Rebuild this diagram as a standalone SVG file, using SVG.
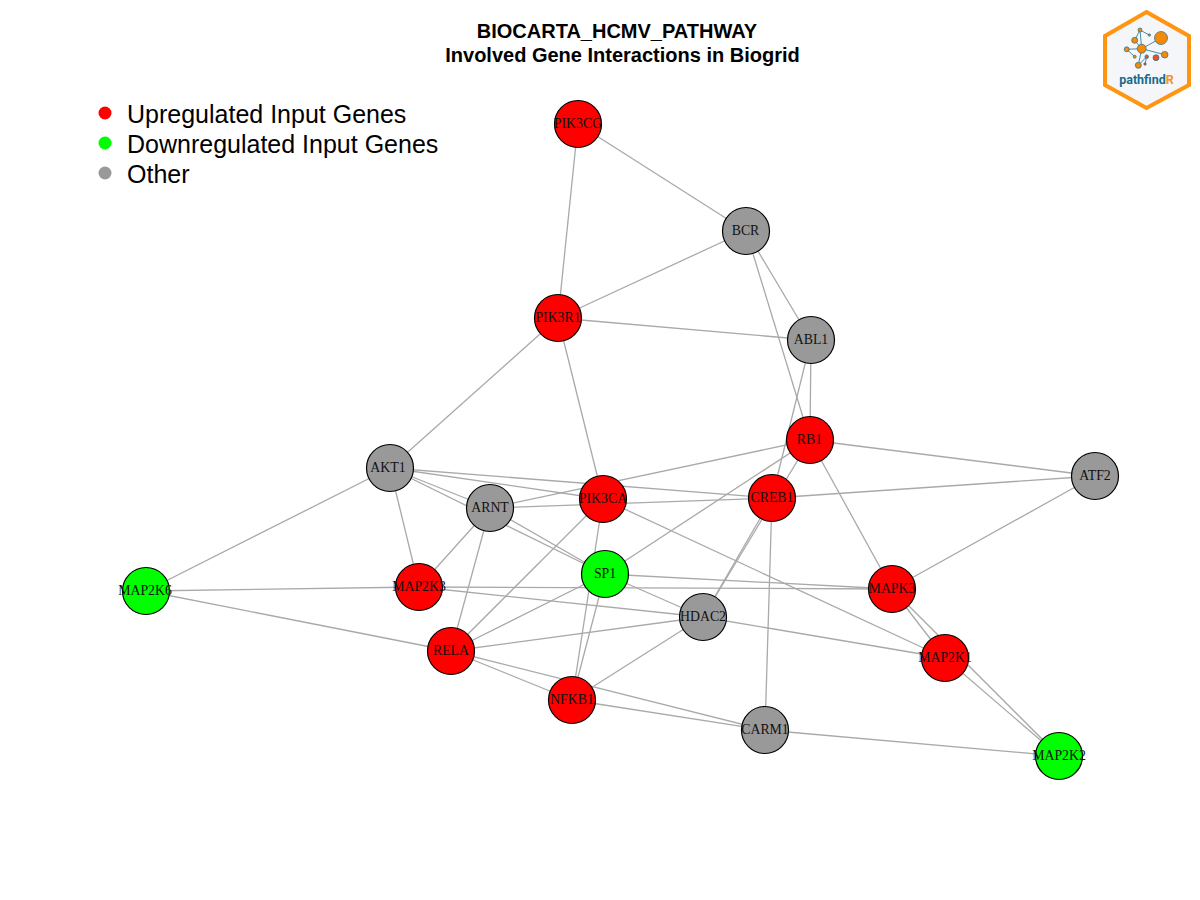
<svg xmlns="http://www.w3.org/2000/svg" width="1200" height="900" viewBox="0 0 1200 900">
<style>
.bg{fill:#fff}
.e line{stroke:#a9a9a9;stroke-width:1.3;fill:none}
.n circle{stroke:#000;stroke-width:1.2}
.up{fill:#f00}.down{fill:#0f0}.other{fill:#999}
.n text{font-family:"Liberation Serif","Times New Roman",serif;font-size:13.800px;text-anchor:middle;fill:#111}
.t{font-family:"Liberation Sans",Arial,sans-serif;font-weight:700;font-size:20px;text-anchor:middle;fill:#000}
.l{font-family:"Liberation Sans",Arial,sans-serif;font-size:25px;fill:#000}
.lg line{stroke:#1f6f8f;stroke-width:.8}
.lg circle{stroke:#1f6f8f;stroke-width:.7;fill:#f58a07}
</style>
<rect class="bg" width="1200" height="900"/>
<g id="title">
<text class="t" x="617" y="38">BIOCARTA_HCMV_PATHWAY</text>
<text class="t" x="622.500" y="62">Involved Gene Interactions in Biogrid</text>
</g>
<g id="legend">
<circle class="up" cx="105" cy="113" r="6.500"/><text class="l" x="127" y="123">Upregulated Input Genes</text>
<circle class="down" cx="105" cy="143" r="6.500"/><text class="l" x="127" y="153">Downregulated Input Genes</text>
<circle class="other" cx="105" cy="173" r="6.500"/><text class="l" x="127" y="183">Other</text>
</g>
<g id="connectors" class="e">
<line x1="578" y1="124" x2="746" y2="231"/>
<line x1="578" y1="124" x2="558" y2="318"/>
<line x1="746" y1="231" x2="558" y2="318"/>
<line x1="746" y1="231" x2="811" y2="340"/>
<line x1="746" y1="231" x2="810" y2="440"/>
<line x1="558" y1="318" x2="811" y2="340"/>
<line x1="558" y1="318" x2="390" y2="468"/>
<line x1="558" y1="318" x2="603" y2="499"/>
<line x1="811" y1="340" x2="810" y2="440"/>
<line x1="811" y1="340" x2="772" y2="498"/>
<line x1="810" y1="440" x2="1095" y2="476"/>
<line x1="810" y1="440" x2="490" y2="508"/>
<line x1="810" y1="440" x2="605" y2="574"/>
<line x1="810" y1="440" x2="892" y2="589"/>
<line x1="810" y1="440" x2="703" y2="617"/>
<line x1="772" y1="498" x2="703" y2="617"/>
<line x1="772" y1="498" x2="1095" y2="476"/>
<line x1="772" y1="498" x2="490" y2="508"/>
<line x1="772" y1="498" x2="390" y2="468"/>
<line x1="772" y1="498" x2="765" y2="730"/>
<line x1="390" y1="468" x2="603" y2="499"/>
<line x1="390" y1="468" x2="490" y2="508"/>
<line x1="390" y1="468" x2="605" y2="574"/>
<line x1="390" y1="468" x2="419" y2="587"/>
<line x1="390" y1="468" x2="146" y2="591"/>
<line x1="490" y1="508" x2="419" y2="587"/>
<line x1="490" y1="508" x2="451" y2="651"/>
<line x1="490" y1="508" x2="605" y2="574"/>
<line x1="603" y1="499" x2="451" y2="651"/>
<line x1="603" y1="499" x2="572" y2="700"/>
<line x1="603" y1="499" x2="945" y2="658"/>
<line x1="605" y1="574" x2="572" y2="700"/>
<line x1="605" y1="574" x2="451" y2="651"/>
<line x1="605" y1="574" x2="703" y2="617"/>
<line x1="605" y1="574" x2="892" y2="589"/>
<line x1="419" y1="587" x2="703" y2="617"/>
<line x1="419" y1="587" x2="892" y2="589"/>
<line x1="146" y1="591" x2="419" y2="587"/>
<line x1="146" y1="591" x2="451" y2="651"/>
<line x1="451" y1="651" x2="703" y2="617"/>
<line x1="451" y1="651" x2="572" y2="700"/>
<line x1="451" y1="651" x2="765" y2="730"/>
<line x1="572" y1="700" x2="703" y2="617"/>
<line x1="572" y1="700" x2="765" y2="730"/>
<line x1="765" y1="730" x2="1059" y2="756"/>
<line x1="703" y1="617" x2="945" y2="658"/>
<line x1="892" y1="589" x2="945" y2="658"/>
<line x1="892" y1="589" x2="1059" y2="756"/>
<line x1="945" y1="658" x2="1059" y2="756"/>
<line x1="892" y1="589" x2="1095" y2="476"/>
</g>
<g id="nodes" class="n">
<g id="PIK3CG"><circle class="up" cx="578" cy="124" r="23.500"/><text x="578" y="128">PIK3CG</text></g>
<g id="BCR"><circle class="other" cx="746" cy="231" r="23.500"/><text x="745.500" y="235">BCR</text></g>
<g id="PIK3R1"><circle class="up" cx="558" cy="318" r="23.500"/><text x="558" y="322">PIK3R1</text></g>
<g id="ABL1"><circle class="other" cx="811" cy="340" r="23.500"/><text x="811" y="344">ABL1</text></g>
<g id="RB1"><circle class="up" cx="810" cy="440" r="23.500"/><text x="809.500" y="444">RB1</text></g>
<g id="CREB1"><circle class="up" cx="772" cy="498" r="23.500"/><text x="772" y="502">CREB1</text></g>
<g id="ATF2"><circle class="other" cx="1095" cy="476" r="23.500"/><text x="1095" y="480">ATF2</text></g>
<g id="AKT1"><circle class="other" cx="390" cy="468" r="23.500"/><text x="388" y="472">AKT1</text></g>
<g id="ARNT"><circle class="other" cx="490" cy="508" r="23.500"/><text x="490" y="512">ARNT</text></g>
<g id="PIK3CA"><circle class="up" cx="603" cy="499" r="23.500"/><text x="603" y="503">PIK3CA</text></g>
<g id="SP1"><circle class="down" cx="605" cy="574" r="23.500"/><text x="605" y="578">SP1</text></g>
<g id="MAP2K6"><circle class="down" cx="146" cy="591" r="23.500"/><text x="145" y="595">MAP2K6</text></g>
<g id="MAP2K3"><circle class="up" cx="419" cy="587" r="23.500"/><text x="419" y="591">MAP2K3</text></g>
<g id="MAPK3"><circle class="up" cx="892" cy="589" r="23.500"/><text x="892" y="593">MAPK3</text></g>
<g id="HDAC2"><circle class="other" cx="703" cy="617" r="23.500"/><text x="703" y="621">HDAC2</text></g>
<g id="RELA"><circle class="up" cx="451" cy="651" r="23.500"/><text x="451" y="655">RELA</text></g>
<g id="MAP2K1"><circle class="up" cx="945" cy="658" r="23.500"/><text x="945" y="662">MAP2K1</text></g>
<g id="NFKB1"><circle class="up" cx="572" cy="700" r="23.500"/><text x="572" y="704">NFKB1</text></g>
<g id="CARM1"><circle class="other" cx="765" cy="730" r="23.500"/><text x="765" y="734">CARM1</text></g>
<g id="MAP2K2"><circle class="down" cx="1059" cy="756" r="23.500"/><text x="1059" y="760">MAP2K2</text></g>
</g>
<g id="logo" class="lg">
<polygon points="1146.500,12 1189,36 1189,85 1146.500,108 1105,85 1105,36" fill="#f4f6f9" stroke="#ff9511" stroke-width="4"/>
<line x1="1141.700" y1="48.700" x2="1161" y2="38"/>
<line x1="1141.700" y1="48.700" x2="1134.700" y2="40.300"/>
<line x1="1141.700" y1="48.700" x2="1140" y2="30"/>
<line x1="1140" y1="30" x2="1149.300" y2="35"/>
<line x1="1134.700" y1="40.300" x2="1140" y2="30"/>
<line x1="1141.700" y1="48.700" x2="1126.700" y2="49.300"/>
<line x1="1126.700" y1="49.300" x2="1134.700" y2="56.700"/>
<line x1="1141.700" y1="48.700" x2="1138.300" y2="65.300"/>
<line x1="1141.700" y1="48.700" x2="1164.700" y2="54.700"/>
<line x1="1146.700" y1="56.700" x2="1145" y2="64"/>
<line x1="1138.300" y1="65.300" x2="1146.700" y2="56.700"/>
<circle cx="1161" cy="38" r="6.500"/>
<circle cx="1141.700" cy="48.700" r="4.500"/>
<circle cx="1134.700" cy="40.300" r="3"/>
<circle cx="1140" cy="30" r="2"/>
<circle cx="1149.300" cy="35" r="1.200"/>
<circle cx="1126.700" cy="49.300" r="2.500"/>
<circle cx="1134.700" cy="56.700" r="1.500"/>
<circle cx="1146.700" cy="56.700" r="1.800" style="fill:#e8541a"/>
<circle cx="1156" cy="57.700" r="3" style="fill:#e8541a"/>
<circle cx="1164.700" cy="54.700" r="3.300"/>
<circle cx="1138.300" cy="65.300" r="3"/>
<circle cx="1145" cy="64" r="1.200" style="fill:#e8541a"/>
<text x="1146.500" y="84" text-anchor="middle" font-family="Roboto,'Liberation Sans',sans-serif" font-weight="700" font-size="12.500" fill="#1b6a8c">pathfind<tspan fill="#f7931e">R</tspan></text>
</g>
</svg>
